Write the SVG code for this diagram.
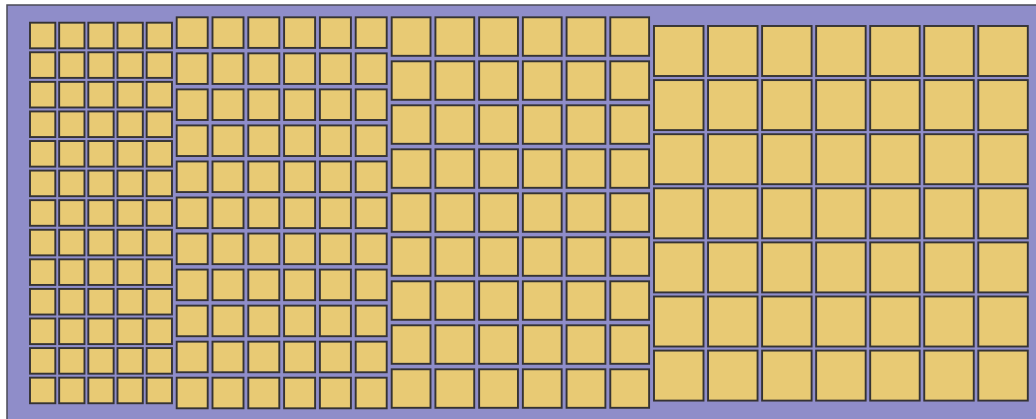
<svg xmlns="http://www.w3.org/2000/svg" xmlns:xlink="http://www.w3.org/1999/xlink" width="1036" height="419" viewBox="0 0 1036 419">
<style>
.c{fill:#e8ca74;stroke:#353333;stroke-width:1.9}
</style>
<defs>
<g id="r1"><rect class="c" x="30" y="0" width="25.3" height="25.6"/><rect class="c" x="59.17" y="0" width="25.3" height="25.6"/><rect class="c" x="88.33" y="0" width="25.3" height="25.6"/><rect class="c" x="117.5" y="0" width="25.3" height="25.6"/><rect class="c" x="146.67" y="0" width="25.3" height="25.6"/></g>
<g id="r2"><rect class="c" x="176.7" y="0" width="31" height="30.6"/><rect class="c" x="212.5" y="0" width="31" height="30.6"/><rect class="c" x="248.3" y="0" width="31" height="30.6"/><rect class="c" x="284.1" y="0" width="31" height="30.6"/><rect class="c" x="319.9" y="0" width="31" height="30.6"/><rect class="c" x="355.7" y="0" width="31" height="30.6"/></g>
<g id="r3"><rect class="c" x="391.7" y="0" width="38.8" height="38.5"/><rect class="c" x="435.42" y="0" width="38.8" height="38.5"/><rect class="c" x="479.14" y="0" width="38.8" height="38.5"/><rect class="c" x="522.86" y="0" width="38.8" height="38.5"/><rect class="c" x="566.58" y="0" width="38.8" height="38.5"/><rect class="c" x="610.3" y="0" width="38.8" height="38.5"/></g>
<g id="r4"><rect class="c" x="654" y="0" width="49.5" height="50"/><rect class="c" x="708.05" y="0" width="49.5" height="50"/><rect class="c" x="762.1" y="0" width="49.5" height="50"/><rect class="c" x="816.15" y="0" width="49.5" height="50"/><rect class="c" x="870.2" y="0" width="49.5" height="50"/><rect class="c" x="924.25" y="0" width="49.5" height="50"/><rect class="c" x="978.3" y="0" width="49.5" height="50"/></g>
</defs>
<rect x="0" y="0" width="1036" height="419" fill="#ffffff"/>
<rect x="7" y="5" width="1040" height="420" fill="#8f8dc9" stroke="#4a4a55" stroke-width="1.5"/>
<g id="section1">
<use xlink:href="#r1" y="22.7"/><use xlink:href="#r1" y="52.28"/><use xlink:href="#r1" y="81.86"/><use xlink:href="#r1" y="111.44"/><use xlink:href="#r1" y="141.02"/><use xlink:href="#r1" y="170.6"/><use xlink:href="#r1" y="200.18"/><use xlink:href="#r1" y="229.76"/><use xlink:href="#r1" y="259.34"/><use xlink:href="#r1" y="288.92"/><use xlink:href="#r1" y="318.5"/><use xlink:href="#r1" y="348.08"/><use xlink:href="#r1" y="377.66"/>
</g>
<g id="section2">
<use xlink:href="#r2" y="17.3"/><use xlink:href="#r2" y="53.34"/><use xlink:href="#r2" y="89.38"/><use xlink:href="#r2" y="125.42"/><use xlink:href="#r2" y="161.46"/><use xlink:href="#r2" y="197.5"/><use xlink:href="#r2" y="233.54"/><use xlink:href="#r2" y="269.58"/><use xlink:href="#r2" y="305.62"/><use xlink:href="#r2" y="341.66"/><use xlink:href="#r2" y="377.7"/>
</g>
<g id="section3">
<use xlink:href="#r3" y="17.3"/><use xlink:href="#r3" y="61.3"/><use xlink:href="#r3" y="105.3"/><use xlink:href="#r3" y="149.3"/><use xlink:href="#r3" y="193.3"/><use xlink:href="#r3" y="237.3"/><use xlink:href="#r3" y="281.3"/><use xlink:href="#r3" y="325.3"/><use xlink:href="#r3" y="369.3"/>
</g>
<g id="section4">
<use xlink:href="#r4" y="26"/><use xlink:href="#r4" y="80.1"/><use xlink:href="#r4" y="134.2"/><use xlink:href="#r4" y="188.3"/><use xlink:href="#r4" y="242.4"/><use xlink:href="#r4" y="296.5"/><use xlink:href="#r4" y="350.6"/>
</g>
</svg>
